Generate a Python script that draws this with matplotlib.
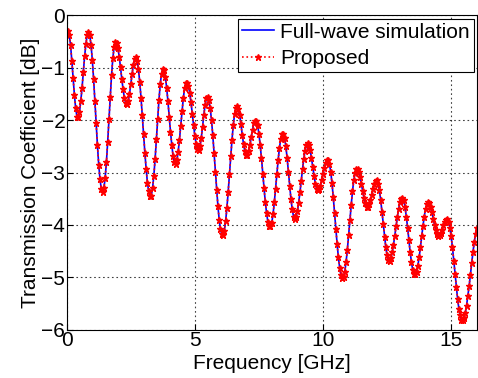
import numpy as np
import matplotlib
matplotlib.use("Agg")
import matplotlib.pyplot as plt

# ── Data (0.05 GHz step) ─────────────────────────────────────────────────────
freq_ghz = np.round(np.arange(1, 321) * 0.05, 2)

s21_db = [
    -0.30, -0.37, -0.56, -0.86, -1.19, -1.51, -1.77, -1.93, -1.94, -1.84,
    -1.64, -1.38, -1.07, -0.78, -0.54, -0.38, -0.32, -0.38, -0.56, -0.85,   # 0-1
    -1.21, -1.63, -2.06, -2.48, -2.85, -3.13, -3.31, -3.37, -3.30, -3.11,
    -2.80, -2.41, -1.98, -1.55, -1.14, -0.82, -0.60, -0.50, -0.53, -0.62,   # 1-2
    -0.79, -0.99, -1.21, -1.41, -1.57, -1.67, -1.70, -1.64, -1.50, -1.31,
    -1.11, -0.94, -0.83, -0.80, -0.87, -1.03, -1.27, -1.57, -1.91, -2.27,   # 2-3
    -2.62, -2.93, -3.19, -3.36, -3.45, -3.44, -3.30, -3.06, -2.74, -2.36,
    -1.97, -1.61, -1.31, -1.11, -1.02, -1.05, -1.17, -1.38, -1.64, -1.93,   # 3-4
    -2.22, -2.47, -2.68, -2.80, -2.83, -2.76, -2.60, -2.37, -2.11, -1.83,
    -1.58, -1.39, -1.29, -1.28, -1.34, -1.48, -1.66, -1.88, -2.09, -2.30,   # 4-5
    -2.45, -2.55, -2.57, -2.50, -2.34, -2.13, -1.90, -1.71, -1.58, -1.55,
    -1.62, -1.77, -2.00, -2.29, -2.63, -2.98, -3.33, -3.64, -3.90, -4.08,   # 5-6
    -4.18, -4.19, -4.11, -3.93, -3.68, -3.37, -3.03, -2.69, -2.37, -2.09,
    -1.89, -1.76, -1.73, -1.79, -1.91, -2.08, -2.28, -2.46, -2.59, -2.66,   # 6-7
    -2.66, -2.59, -2.47, -2.32, -2.18, -2.06, -2.01, -2.01, -2.10, -2.26,
    -2.48, -2.73, -3.02, -3.30, -3.57, -3.78, -3.94, -4.03, -4.03, -3.96,   # 7-8
    -3.80, -3.57, -3.31, -3.03, -2.76, -2.53, -2.36, -2.27, -2.26, -2.34,
    -2.50, -2.72, -2.98, -3.25, -3.51, -3.70, -3.84, -3.88, -3.84, -3.74,   # 8-9
    -3.58, -3.38, -3.16, -2.94, -2.74, -2.58, -2.48, -2.44, -2.47, -2.57,
    -2.72, -2.89, -3.06, -3.21, -3.31, -3.34, -3.32, -3.25, -3.14, -3.02,   # 9-10
    -2.91, -2.81, -2.76, -2.76, -2.83, -2.98, -3.20, -3.47, -3.77, -4.07,
    -4.36, -4.62, -4.82, -4.96, -5.02, -4.99, -4.89, -4.71, -4.47, -4.20,   # 10-11
    -3.91, -3.62, -3.36, -3.15, -3.00, -2.93, -2.93, -2.99, -3.09, -3.22,
    -3.36, -3.49, -3.59, -3.65, -3.66, -3.61, -3.53, -3.43, -3.32, -3.22,   # 11-12
    -3.17, -3.15, -3.21, -3.33, -3.52, -3.75, -3.99, -4.23, -4.43, -4.58,
    -4.67, -4.68, -4.63, -4.52, -4.38, -4.21, -4.03, -3.85, -3.69, -3.57,   # 12-13
    -3.50, -3.48, -3.53, -3.66, -3.84, -4.05, -4.29, -4.52, -4.71, -4.86,
    -4.94, -4.94, -4.89, -4.78, -4.62, -4.43, -4.22, -4.02, -3.84, -3.69,   # 13-14
    -3.60, -3.57, -3.59, -3.66, -3.76, -3.88, -4.00, -4.10, -4.18, -4.21,
    -4.20, -4.15, -4.09, -4.01, -3.95, -3.90, -3.89, -3.94, -4.05, -4.22,   # 14-15
    -4.43, -4.68, -4.93, -5.18, -5.41, -5.60, -5.73, -5.81, -5.82, -5.77,
    -5.68, -5.54, -5.36, -5.17, -4.95, -4.73, -4.52, -4.33, -4.17, -4.05,   # 15-16
]

x_ticks = [0, 5, 10, 15]
y_ticks = [-6, -5, -4, -3, -2, -1, 0]

# ── Style ────────────────────────────────────────────────────────────────────
plt.rcParams.update({
    "font.family": ["Liberation Sans", "DejaVu Sans"],
    "font.size": 15,
    "xtick.direction": "in",
    "ytick.direction": "in",
})

fig = plt.figure(figsize=(4.78, 3.78), dpi=100)
ax = fig.add_axes([0.1395, 0.128, 0.858, 0.831])

ax.plot(freq_ghz, s21_db, color="blue", linewidth=1.2, label="Full-wave simulation")
ax.plot(freq_ghz, s21_db, color="red", linestyle=":", linewidth=1.2,
        marker="*", markersize=4.5, label="Proposed")

ax.set_xlim(0, 16)
ax.set_ylim(-6, 0)
ax.set_xticks(x_ticks)
ax.set_yticks(y_ticks)
ax.tick_params(length=4, width=0.8, pad=1, labelsize=15)
ax.grid(True, color="black", linestyle=(0, (1.5, 2.5)), linewidth=0.8, alpha=0.75)

ax.set_xlabel("Frequency [GHz]", fontsize=15, labelpad=3)
ax.set_ylabel("Transmission Coefficient [dB]", fontsize=15, labelpad=1)

leg = ax.legend(loc="upper right", fontsize=15, fancybox=False, framealpha=1,
                edgecolor="black", borderpad=0.2, labelspacing=0.35,
                handlelength=1.5, handletextpad=0.3, borderaxespad=0.15)
leg.get_frame().set_linewidth(0.8)

fig.savefig("out.png", dpi=100)
